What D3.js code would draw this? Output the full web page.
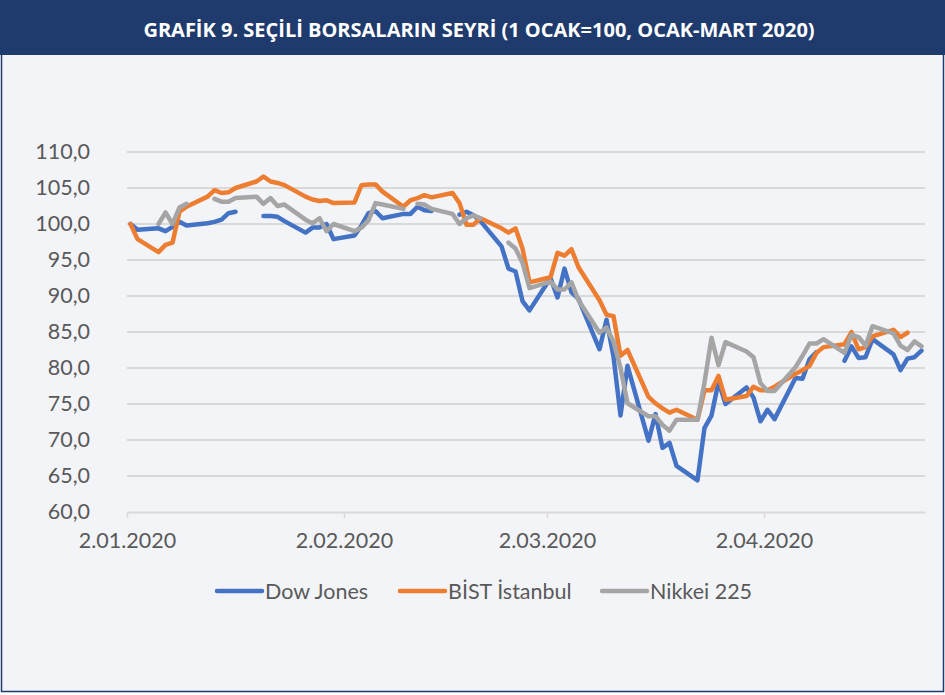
<!DOCTYPE html>
<html>
<head>
<meta charset="utf-8">
<script src="https://cdn.jsdelivr.net/npm/d3@7"></script>
<style>
    body { margin: 0; background: #ffffff; }
    svg text { font-family: "Open Sans", "Liberation Sans", sans-serif; }
</style>
</head>
<body>
<svg></svg>
<script>
var width = 945,
    height = 695,
    margin = {
        left: 127,
        right: 20,
        top: 152,
        bottom: 183
    }

var title = "GRAFİK 9. SEÇİLİ BORSALARIN SEYRİ (1 OCAK=100, OCAK-MART 2020)"

// trading days (union of the three markets)
var dates = [
    "2020-01-02", "2020-01-03", "2020-01-06", "2020-01-07", "2020-01-08", "2020-01-09", "2020-01-10",
    "2020-01-13", "2020-01-14", "2020-01-15", "2020-01-16", "2020-01-17", "2020-01-20", "2020-01-21",
    "2020-01-22", "2020-01-23", "2020-01-24", "2020-01-27", "2020-01-28", "2020-01-29", "2020-01-30",
    "2020-01-31",
    "2020-02-03", "2020-02-04", "2020-02-05", "2020-02-06", "2020-02-07", "2020-02-10", "2020-02-11",
    "2020-02-12", "2020-02-13", "2020-02-14", "2020-02-17", "2020-02-18", "2020-02-19", "2020-02-20",
    "2020-02-21", "2020-02-24", "2020-02-25", "2020-02-26", "2020-02-27", "2020-02-28",
    "2020-03-02", "2020-03-03", "2020-03-04", "2020-03-05", "2020-03-06", "2020-03-09", "2020-03-10",
    "2020-03-11", "2020-03-12", "2020-03-13", "2020-03-16", "2020-03-17", "2020-03-18", "2020-03-19",
    "2020-03-20", "2020-03-23", "2020-03-24", "2020-03-25", "2020-03-26", "2020-03-27", "2020-03-30",
    "2020-03-31",
    "2020-04-01", "2020-04-02", "2020-04-03", "2020-04-06", "2020-04-07", "2020-04-08", "2020-04-09",
    "2020-04-10", "2020-04-13", "2020-04-14", "2020-04-15", "2020-04-16", "2020-04-17", "2020-04-20",
    "2020-04-21", "2020-04-22", "2020-04-23", "2020-04-24"
]

var dowJones = [
    100.0, 99.2, 99.4, 99.0, 99.6, 100.3, 99.8, 100.1, 100.3, 100.6, 101.5, 101.7, null, 101.1,
    101.1, 101.0, 100.4, 98.8, 99.5, 99.5, 100.0, 97.9,
    98.4, 99.8, 101.5, 101.8, 100.8, 101.4, 101.4, 102.4, 101.9, 101.8, null, 101.3, 101.7, 101.2,
    100.4, 96.9, 93.8, 93.4, 89.3, 88.0,
    92.5, 89.8, 93.8, 90.5, 89.6, 82.6, 86.7, 81.6, 73.4, 80.3, 69.9, 73.6, 68.9, 69.6,
    66.4, 64.4, 71.7, 73.4, 78.1, 75.0, 77.3, 75.9,
    72.6, 74.2, 72.9, 78.6, 78.5, 81.2, 82.2, null, 81.0, 83.0, 81.4, 81.5, 84.0, 81.9,
    79.7, 81.3, 81.5, 82.4
]

var bist = [
    100.0, 97.9, 96.1, 97.1, 97.4, 101.7, 102.4, 103.8, 104.7, 104.3, 104.4, 105.0, 105.9, 106.6,
    105.9, 105.7, 105.4, 103.8, 103.4, 103.2, 103.3, 102.9,
    103.0, 105.4, 105.5, 105.5, 104.5, 102.4, 103.3, 103.6, 104.0, 103.7, 104.3, 102.9, 99.9, 99.9,
    100.8, 99.4, 98.8, 99.4, 96.6, 91.9,
    92.6, 96.0, 95.6, 96.5, 94.0, 89.4, 87.4, 87.2, 81.7, 82.5, 76.0, 75.1, 74.4, 73.8,
    74.2, 72.8, 76.9, 76.9, 78.9, 75.6, 76.1, 77.4,
    76.9, 76.9, 77.4, 79.2, 79.7, 80.3, 82.1, 82.9, 83.3, 85.0, 82.6, 82.9, 84.4, 85.3,
    84.3, 84.9, null, null
]

var nikkei = [
    null, null, 100.0, 101.6, 100.0, 102.3, 102.8, null, 103.5, 103.1, 103.1, 103.6, 103.8, 102.8,
    103.6, 102.5, 102.7, 100.6, 100.1, 100.8, 99.0, 100.0,
    99.0, 99.5, 100.5, 102.9, 102.7, 102.1, null, 102.8, 102.7, 102.1, 101.4, 100.0, 100.8, 101.2,
    100.8, null, 97.4, 96.6, 94.6, 91.1,
    92.0, 90.9, 90.9, 91.9, 89.4, 84.9, 85.6, 83.7, 80.0, 75.1, 73.3, 73.3, 72.1, 71.3,
    72.8, 72.8, 78.0, 84.2, 80.4, 83.6, 82.3, 81.5,
    77.9, 76.8, 76.8, 80.1, 81.7, 83.4, 83.4, 84.0, 82.1, 84.6, 84.3, 83.1, 85.8, 84.8,
    83.1, 82.5, 83.7, 83.0
]

var seriesNames = ["Dow Jones", "BİST İstanbul", "Nikkei 225"]
var colors = ["#4472C4", "#ED7D31", "#A5A5A5"]
var yTicks = [60, 65, 70, 75, 80, 85, 90, 95, 100, 105, 110]
var xTicks = ["2020-01-02", "2020-02-02", "2020-03-02", "2020-04-02"]
var xDomain = ["2020-01-02", "2020-04-25"]

var parse = d3.timeParse("%Y-%m-%d"),
    fmtTick = d3.timeFormat("%-d.%m.%Y"),
    fmtY = function(d) { return d.toFixed(1).replace(".", ",") }

var labelFont = "Lato, 'Open Sans', sans-serif"

var svg = d3.select("svg").attr("width", width).attr("height", height)

// panel
svg.append("rect").attr("x", 1.5).attr("y", 0).attr("width", width - 3).attr("height", height - 3.5)
    .attr("fill", "#F3F4F8").attr("stroke", "#1F3B6D").attr("stroke-width", 1.5)
svg.append("rect").attr("x", 0).attr("y", 0).attr("width", width).attr("height", 55)
    .attr("fill", "#1F3B6D")
svg.append("text").attr("x", 479).attr("y", 37)
    .attr("text-anchor", "middle").attr("fill", "#ffffff")
    .style("font-size", "20px").style("font-weight", "700")
    .text(title)

var innerW = width - margin.left - margin.right,
    innerH = height - margin.top - margin.bottom

var x = d3.scaleTime().domain(xDomain.map(parse)).range([0, innerW])
var y = d3.scaleLinear().domain([60, 110]).range([innerH, 0])

var g = svg.append("g").attr("transform", "translate(" + margin.left + "," + margin.top + ")")

// grid
g.selectAll(".grid").data(yTicks.slice(1)).enter().append("line")
    .attr("x1", 0).attr("x2", innerW)
    .attr("y1", function(d) { return y(d) }).attr("y2", function(d) { return y(d) })
    .attr("stroke", "#D9D9D9").attr("stroke-width", 2)

var yAxis = d3.axisLeft(y).tickValues(yTicks).tickFormat(fmtY).tickSize(0).tickPadding(37)
g.append("g").attr("class", "y-axis").call(yAxis)
    .call(function(a) { a.select(".domain").remove() })

var xAxis = d3.axisBottom(x).tickValues(xTicks.map(parse)).tickFormat(fmtTick)
    .tickSize(6).tickSizeOuter(0).tickPadding(15)
g.append("g").attr("class", "x-axis").attr("transform", "translate(0," + innerH + ")").call(xAxis)

g.selectAll(".domain").attr("stroke", "#D9D9D9").attr("stroke-width", 2)
g.selectAll(".tick line").attr("stroke", "#D9D9D9").attr("stroke-width", 1.5)
g.selectAll(".tick text").attr("fill", "#595959").style("font-size", "21.5px")
    .style("font-family", labelFont)

// lines: each point sits in the middle of its day
var days = dates.map(parse)
var line = d3.line()
    .defined(function(d) { return d.v != null })
    .x(function(d) { return x(d3.timeHour.offset(d.date, 12)) })
    .y(function(d) { return y(d.v) })

var series = [dowJones, bist, nikkei]
series.forEach(function(values, i) {
    var pts = values.map(function(v, j) { return { date: days[j], v: v } })
    g.append("path").datum(pts)
        .attr("d", line)
        .attr("fill", "none")
        .attr("stroke", colors[i])
        .attr("stroke-width", 4.5)
        .attr("stroke-linejoin", "round")
        .attr("stroke-linecap", "round")
})

// legend
var legendX = [217, 400, 602]
var legend = svg.append("g").attr("transform", "translate(0,591)")
seriesNames.forEach(function(name, i) {
    legend.append("line").attr("x1", legendX[i]).attr("x2", legendX[i] + 45)
        .attr("y1", 0).attr("y2", 0)
        .attr("stroke", colors[i]).attr("stroke-width", 4.5).attr("stroke-linecap", "round")
    legend.append("text").attr("x", legendX[i] + 48).attr("y", 8)
        .attr("fill", "#595959").style("font-size", "21.5px")
        .style("font-family", labelFont)
        .text(name)
})
</script>
</body>
</html>
